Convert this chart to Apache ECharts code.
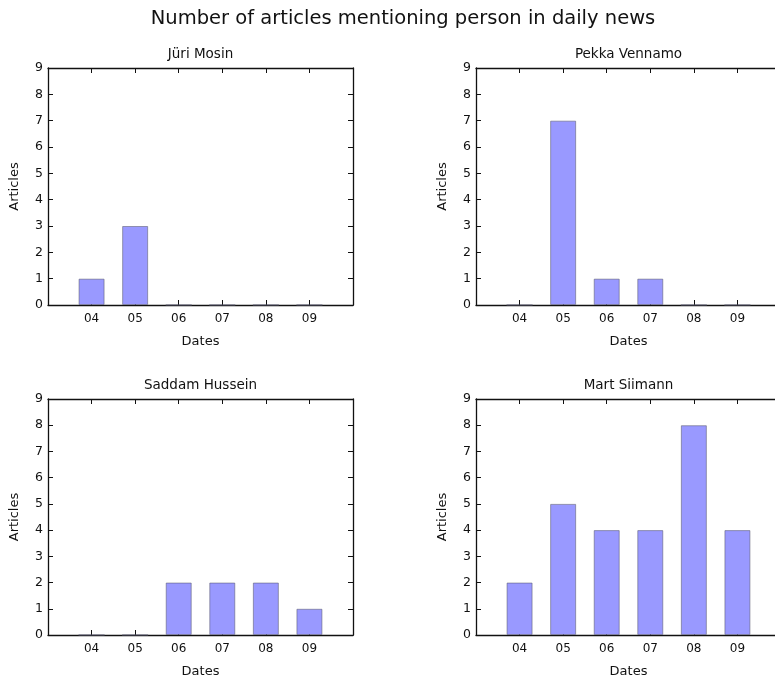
<!DOCTYPE html>
<html>
<head>
<meta charset="utf-8">
<script src="https://cdn.jsdelivr.net/npm/echarts@6/dist/echarts.min.js"></script>
<style>
  html, body { margin: 0; padding: 0; background: #fff; overflow: hidden; }
  /* the original figure is wider than the window: its right edge is cut off */
  #chart { width: 800px; height: 679px; }
</style>
</head>
<body>
<div id="chart"></div>
<script>
// data
var months = ['04', '05', '06', '07', '08', '09'];
var people = ['Jüri Mosin', 'Pekka Vennamo', 'Saddam Hussein', 'Mart Siimann'];
var juri = [1, 3, 0, 0, 0, 0];
var pekka = [0, 7, 1, 1, 0, 0];
var saddam = [0, 0, 2, 2, 2, 1];
var mart = [2, 5, 4, 4, 8, 4];
var yTicks = [0, 1, 2, 3, 4, 5, 6, 7, 8, 9];

var allValues = [juri, pekka, saddam, mart];
var font = 'DejaVu Sans';

// one box per subplot
var boxes = [
  { left: 48, top: 68, width: 305, height: 237 },
  { left: 476, top: 68, width: 305, height: 237 },
  { left: 48, top: 399, width: 305, height: 237 },
  { left: 476, top: 399, width: 305, height: 237 }
];

var chart = echarts.init(document.getElementById('chart'), null, { renderer: 'canvas' });

var lineStyle = { color: '#111', width: 1.3 };
var tickStyle = { show: true, inside: true, length: 5, lineStyle: { color: '#111', width: 1 } };

var grids = [], xAxes = [], yAxes = [], series = [];
var titles = [{
  text: 'Number of articles mentioning person in daily news',
  left: 403, top: 9, textAlign: 'center', padding: 0,
  textStyle: { fontFamily: font, fontSize: 19.5, fontWeight: 'normal', color: '#111' }
}];

boxes.forEach(function (b, i) {
  grids.push({ left: b.left, top: b.top, width: b.width, height: b.height, containLabel: false });

  titles.push({
    text: people[i],
    left: b.left + b.width / 2, top: b.top - 21, textAlign: 'center', padding: 0,
    textStyle: { fontFamily: font, fontSize: 13.5, fontWeight: 'normal', color: '#111' }
  });

  // bottom x axis
  xAxes.push({
    type: 'value', gridIndex: i, position: 'bottom',
    min: -1, max: 6, interval: 1,
    name: 'Dates', nameLocation: 'middle', nameGap: 30,
    nameTextStyle: { fontFamily: font, fontSize: 13, color: '#111' },
    axisLine: { show: true, onZero: false, lineStyle: lineStyle },
    axisTick: tickStyle,
    axisLabel: {
      fontFamily: font, fontSize: 12, color: '#111', margin: 8,
      showMinLabel: true, showMaxLabel: true,
      formatter: function (v) { return (v >= 0 && v < months.length) ? months[v] : ''; }
    },
    splitLine: { show: false }
  });
  // top mirror axis
  xAxes.push({
    type: 'value', gridIndex: i, position: 'top',
    min: -1, max: 6, interval: 1,
    axisLine: { show: true, onZero: false, lineStyle: lineStyle },
    axisTick: tickStyle,
    axisLabel: { show: false },
    splitLine: { show: false }
  });
  // left y axis
  yAxes.push({
    type: 'value', gridIndex: i, position: 'left',
    min: yTicks[0], max: yTicks[yTicks.length - 1], interval: 1,
    name: 'Articles', nameLocation: 'middle', nameGap: 27, nameRotate: 90,
    nameTextStyle: { fontFamily: font, fontSize: 13, color: '#111' },
    axisLine: { show: true, onZero: false, lineStyle: lineStyle },
    axisTick: tickStyle,
    axisLabel: { fontFamily: font, fontSize: 12.5, color: '#111', margin: 5 },
    splitLine: { show: false }
  });
  // right mirror axis
  yAxes.push({
    type: 'value', gridIndex: i, position: 'right',
    min: yTicks[0], max: yTicks[yTicks.length - 1], interval: 1,
    axisLine: { show: true, onZero: false, lineStyle: lineStyle },
    axisTick: tickStyle,
    axisLabel: { show: false },
    splitLine: { show: false }
  });

  series.push({
    type: 'bar',
    xAxisIndex: i * 2,
    yAxisIndex: i * 2,
    barWidth: 26,
    data: allValues[i].map(function (v, k) { return [k, v]; }),
    itemStyle: {
      color: '#9999ff',
      borderColor: 'rgba(90,90,110,0.55)',
      borderWidth: 1
    },
    z: 1
  });
});

chart.setOption({
  animation: false,
  backgroundColor: '#fff',
  title: titles,
  grid: grids,
  xAxis: xAxes,
  yAxis: yAxes,
  series: series
});
</script>
</body>
</html>
